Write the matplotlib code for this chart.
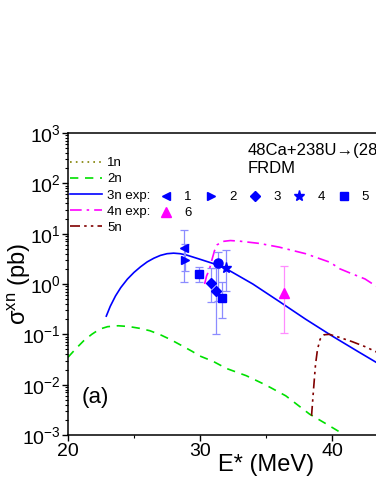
import numpy as np
import matplotlib
matplotlib.use("Agg")
import matplotlib.pyplot as plt

plt.rcParams['font.family'] = ['Liberation Sans', 'DejaVu Sans']
plt.rcParams['mathtext.fontset'] = 'custom'
plt.rcParams['mathtext.rm'] = 'Liberation Sans'
plt.rcParams['mathtext.it'] = 'Liberation Sans:italic'
plt.rcParams['mathtext.default'] = 'regular'

# ---------------- data ----------------
x2n = [20.0, 20.6, 21.2, 21.8, 22.4, 23.0, 23.8, 24.6, 25.4, 26.2, 27.0, 27.8, 28.6, 29.4, 30.0,
       31.0, 32.0, 33.5, 35.0, 36.5, 38.3, 39.5, 40.7]
y2n = [0.035, 0.052, 0.075, 0.100, 0.127, 0.142, 0.148, 0.143, 0.132, 0.118, 0.098, 0.078, 0.060,
       0.046, 0.037, 0.029, 0.021, 0.0151, 0.0098, 0.0060, 0.0026, 0.0017, 0.0011]

x3n = [22.9, 23.2, 23.6, 24.0, 24.5, 25.0, 25.5, 26.0, 26.5, 27.0, 27.5, 28.0, 28.5, 29.0,
       30.0, 31.0, 32.0, 34.0, 36.0, 38.0, 40.0, 42.0, 44.0, 46.0]
y3n = [0.23, 0.36, 0.58, 0.85, 1.25, 1.7, 2.2, 2.75, 3.25, 3.7, 4.0, 4.1, 4.0, 3.75,
       3.1, 2.55, 2.0, 1.0, 0.45, 0.2, 0.093, 0.045, 0.022, 0.011]

x4n = [30.35, 30.5, 30.7, 30.9, 31.1, 31.3, 31.7, 32.3, 33.0, 34.5, 36.0, 38.0, 39.85, 40.6,
       41.5, 42.5, 43.3, 44.5]
y4n = [1.0, 1.45, 1.9, 3.0, 4.6, 6.0, 7.0, 7.3, 7.1, 6.4, 5.4, 4.0, 2.7, 2.0,
       1.6, 1.26, 0.92, 0.62]

x5n = [38.45, 38.6, 38.75, 38.9, 39.1, 39.4, 39.8, 40.5, 41.5, 42.5, 43.5, 45.0]
y5n = [0.0024, 0.008, 0.025, 0.05, 0.08, 0.098, 0.1, 0.088, 0.072, 0.057, 0.043, 0.028]

# experimental 3n data sets (x, y, lower, upper)
e1_x, e1_y, e1_lo, e1_hi = [28.8], [5.1], [1.1], [11.8]
e2_x, e2_y, e2_lo, e2_hi = [28.9], [3.0], [1.8], [6.2]
e3_x, e3_y, e3_lo, e3_hi = [30.8, 31.2], [1.05, 0.73], [0.44, 0.10], [2.1, 2.1]
e4_x, e4_y, e4_lo, e4_hi = [31.95], [2.05], [0.74], [4.7]
e5_x, e5_y, e5_lo, e5_hi = [29.95, 31.7], [1.58, 0.52], [1.08, 0.21], [2.2, 1.1]
ec_x, ec_y, ec_lo, ec_hi = [31.4], [2.6], [0.45], [4.4]
# experimental 4n data set
e6_x, e6_y, e6_lo, e6_hi = [36.36], [0.65], [0.104], [2.25]

xticks = [20, 30, 40]
yticks = [1e-3, 1e-2, 1e-1, 1e0, 1e1, 1e2, 1e3]

# ---------------- figure ----------------
W, H = 376, 487
fig = plt.figure(figsize=(W / 100, H / 100), dpi=100)
ax = fig.add_axes([68 / W, (H - 435) / H, (464 - 68) / W, (435 - 133) / H])

BLUE = '#0000FF'
MAG = '#FF00FF'
GREEN = '#00E000'
WINE = '#800000'
OLIVE = '#808000'
lw = 1.2

l1, = ax.plot([], [], color=OLIVE, lw=lw, ls=(0, (1, 2.5)))
l2, = ax.plot(x2n, y2n, color=GREEN, lw=lw, ls=(0, (5, 4)))
l3, = ax.plot(x3n, y3n, color=BLUE, lw=lw, ls='-')
l4, = ax.plot(x4n, y4n, color=MAG, lw=lw, ls=(0, (7, 3, 1.5, 3)))
l5, = ax.plot(x5n, y5n, color=WINE, lw=lw, ls=(0, (6, 2.5, 1.5, 2.5, 1.5, 2.5)))

def eb(x, y, lo, hi, marker, color, ecolor, ms):
    y = np.array(y); lo = np.array(lo); hi = np.array(hi)
    ax.errorbar(x, y, yerr=[y - lo, hi - y], fmt='none', ecolor=ecolor, elinewidth=0.9,
                capsize=3, capthick=0.9, zorder=3)
    h, = ax.plot(x, y, ls='none', marker=marker, color=color, ms=ms, mec=color, zorder=4)
    return h

ELB = '#8C8CFF'
m1 = eb(e1_x, e1_y, e1_lo, e1_hi, '<', BLUE, ELB, 6)
m2 = eb(e2_x, e2_y, e2_lo, e2_hi, '>', BLUE, ELB, 6)
m3 = eb(e3_x, e3_y, e3_lo, e3_hi, 'D', BLUE, ELB, 5)
m4 = eb(e4_x, e4_y, e4_lo, e4_hi, '*', BLUE, ELB, 8)
m5 = eb(e5_x, e5_y, e5_lo, e5_hi, 's', BLUE, ELB, 5.5)
mc = eb(ec_x, ec_y, ec_lo, ec_hi, 'o', BLUE, ELB, 6.5)
m6 = eb(e6_x, e6_y, e6_lo, e6_hi, '^', MAG, '#FF8CFF', 6.5)

ax.set_yscale('log')
ax.set_xlim(20, 50)
ax.set_ylim(1e-3, 1e3)
ax.set_xticks(xticks)
ax.set_xticklabels([str(t) for t in xticks])
ax.set_yticks(yticks)
ax.set_yticklabels([r'$10^{%d}$' % int(np.log10(t)) for t in yticks])
ax.xaxis.set_minor_locator(matplotlib.ticker.FixedLocator([25, 35, 45]))
ax.yaxis.set_minor_locator(matplotlib.ticker.LogLocator(base=10, subs=np.arange(2, 10), numticks=20))
ax.yaxis.set_minor_formatter(matplotlib.ticker.NullFormatter())
ax.tick_params(which='major', direction='out', length=4, width=1, labelsize=14, pad=2)
ax.tick_params(which='minor', direction='out', length=2.2, width=0.8)
ax.tick_params(axis='y', which='major', pad=1)
for s in ax.spines.values():
    s.set_linewidth(1.1)

ax.set_xlabel('E* (MeV)', fontsize=17)
ax.set_ylabel(r'$\sigma^{xn}$ (pb)', fontsize=17)
ax.xaxis.set_label_coords(0.5, -0.062)
ax.yaxis.set_label_coords(-0.088, 0.5)

ax.text(0.035, 0.106, '(a)', transform=ax.transAxes, fontsize=16, va='baseline', ha='left')

fs = 9.5
ax.text((248 - 68) / 396, (435 - 155) / 302, '48Ca+238U\u2192(286)', transform=ax.transAxes,
        fontsize=12, va='baseline', ha='left')
ax.text((248 - 68) / 396, (435 - 173) / 302, 'FRDM', transform=ax.transAxes,
        fontsize=12, va='baseline', ha='left')

def fpos(px, py):
    return (px / W, 1 - py / H)

leg1 = ax.legend([l1, l2, l3, l4, l5], ['1n', '2n', '3n exp:', '4n exp:', '5n'],
                 loc='upper left', bbox_to_anchor=fpos(70, 157), bbox_transform=fig.transFigure,
                 frameon=False, fontsize=fs, handlelength=2.4, handletextpad=0.4,
                 labelspacing=0.3, borderpad=0, borderaxespad=0)
ax.add_artist(leg1)
leg2 = ax.legend([m1, m2, m3, m4, m5], ['1', '2', '3', '4', '5'], ncol=5,
                 loc='center left', bbox_to_anchor=fpos(160, 197), bbox_transform=fig.transFigure,
                 frameon=False, fontsize=fs, handlelength=0.95, handletextpad=0.9,
                 columnspacing=0.95, borderpad=0, borderaxespad=0, numpoints=1)
ax.add_artist(leg2)
leg3 = ax.legend([m6], ['6'], loc='center left', bbox_to_anchor=fpos(160, 213),
                 bbox_transform=fig.transFigure, frameon=False, fontsize=fs,
                 handlelength=0.95, handletextpad=0.9, borderpad=0, borderaxespad=0, numpoints=1)

fig.savefig('out.png', dpi=100)
